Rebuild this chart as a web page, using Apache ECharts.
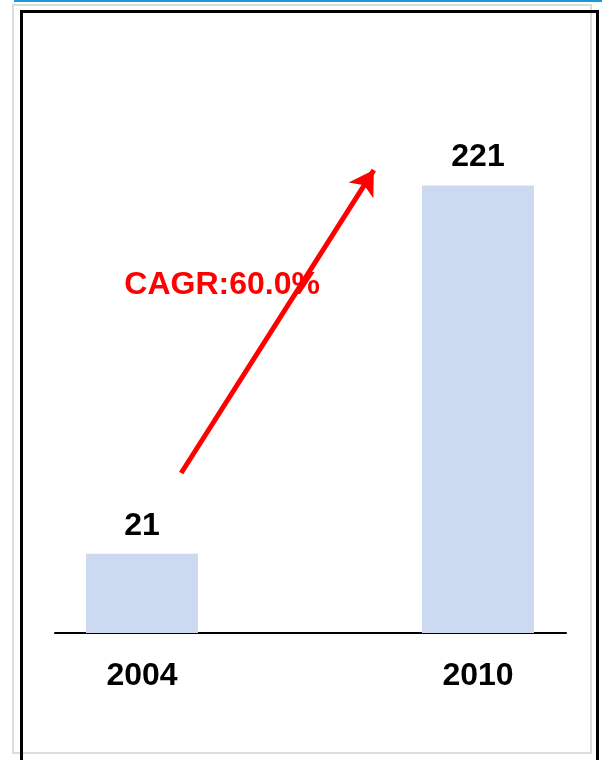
<!DOCTYPE html>
<html>
<head>
<meta charset="utf-8">
<script src="https://cdn.jsdelivr.net/npm/echarts@6/dist/echarts.min.js"></script>
<style>
  html, body { margin: 0; padding: 0; background: #fff; }
  #wrap { position: relative; width: 602px; height: 760px; overflow: hidden; }
  #blue { position: absolute; left: 14px; top: 0; width: 588px; height: 2px; background: #1a9ad6; }
  #gray { position: absolute; left: 12px; top: 4px; width: 576px; height: 746px; border: 2px solid #dcdcdc; }
  #black { position: absolute; left: 20px; top: 10px; width: 573px; height: 800px; border: 3px solid #000; }
  #chart { position: absolute; left: 0; top: 0; width: 602px; height: 760px; }
</style>
</head>
<body>
<div id="wrap">
  <div id="blue"></div>
  <div id="gray"></div>
  <div id="black"></div>
  <div id="chart"></div>
</div>
<script>
const years = [2004, 2010];
const values = [21, 221];
const cagrText = 'CAGR:60.0%';
// annotation arrow, in data space: [year, value]
const cagrArrow = [[2004.70, 64.9], [2008.14, 229.4]];
const cagrLabelAt = [2005.43, 167.0];

const FONT = '"Liberation Sans", Arial, sans-serif';

const chart = echarts.init(document.getElementById('chart'), null, { renderer: 'canvas' });
chart.setOption({
  animation: false,
  backgroundColor: 'transparent',
  grid: { left: 55, right: 36, top: 99, bottom: 127 },
  xAxis: {
    type: 'value',
    min: 2002.4464,
    max: 2011.5714,
    splitLine: { show: false },
    axisTick: { show: false },
    axisLine: { show: true, onZero: false, lineStyle: { color: '#000', width: 2 } },
    axisLabel: {
      customValues: years,
      formatter: v => String(v),
      color: '#000',
      fontSize: 32,
      fontWeight: 'bold',
      fontFamily: FONT,
      margin: 27
    }
  },
  yAxis: {
    type: 'value',
    min: -22,
    max: 268,
    startValue: -22,
    show: false,
    splitLine: { show: false }
  },
  series: [{
    type: 'bar',
    data: years.map((y, i) => [y, values[i]]),
    barWidth: 112,
    clip: false,
    itemStyle: { color: '#cbdaf0' },
    label: {
      show: true,
      position: 'top',
      distance: 12,
      color: '#000',
      fontSize: 32,
      fontWeight: 'bold',
      fontFamily: FONT,
      formatter: p => String(p.value[1])
    },
    markLine: {
      silent: true,
      symbol: ['none', 'arrow'],
      symbolSize: [22, 24],
      label: { show: false },
      lineStyle: { color: '#ff0000', width: 5, type: 'solid' },
      data: [[{ coord: cagrArrow[0] }, { coord: cagrArrow[1] }]]
    },
    markPoint: {
      silent: true,
      symbol: 'rect',
      symbolSize: 1,
      itemStyle: { color: 'transparent' },
      label: {
        show: true,
        position: 'inside',
        formatter: cagrText,
        color: '#ff0000',
        fontSize: 32,
        fontWeight: 'bold',
        fontFamily: FONT
      },
      data: [{ coord: cagrLabelAt }]
    }
  }]
});
</script>
</body>
</html>
